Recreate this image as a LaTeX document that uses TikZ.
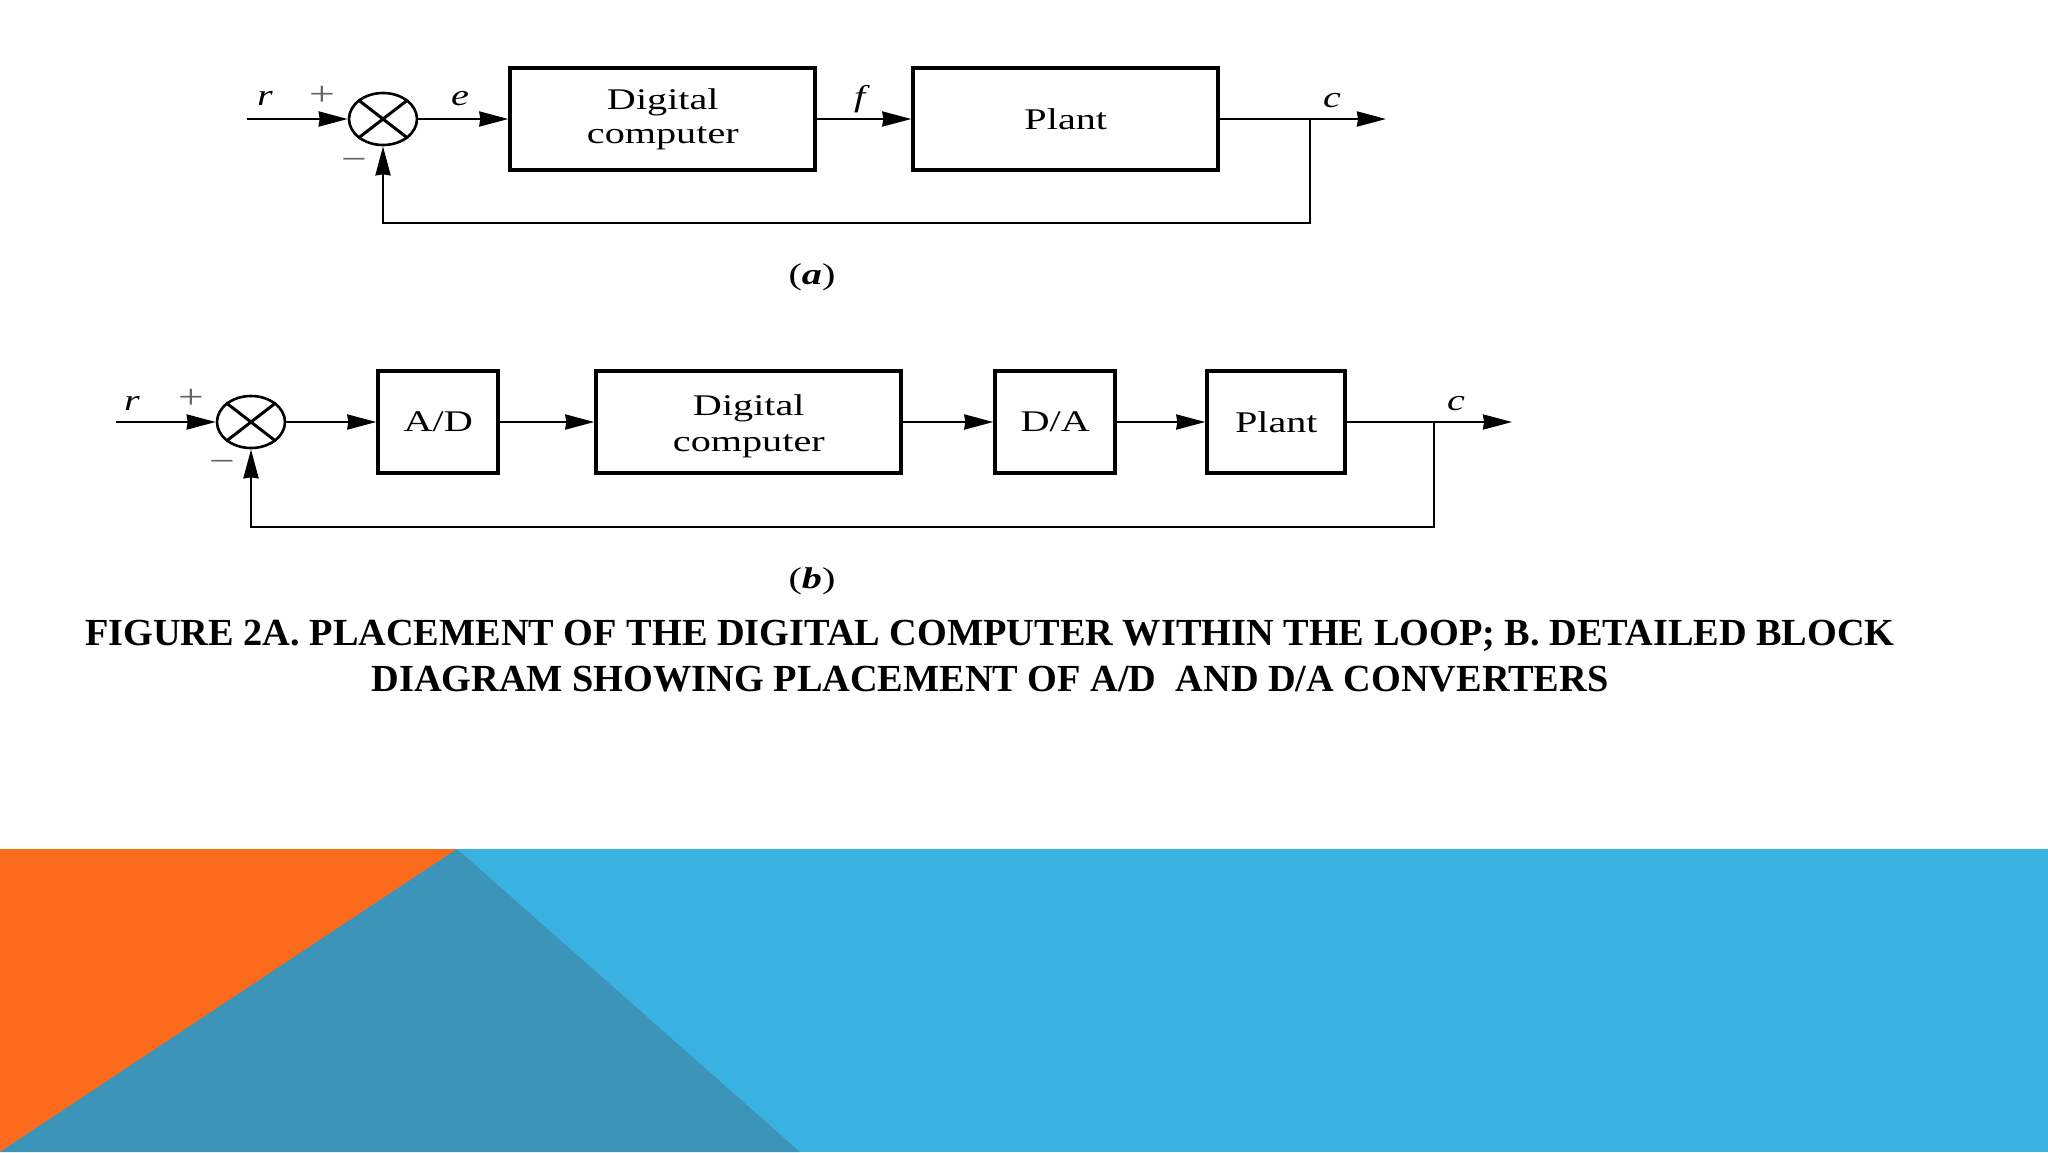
\documentclass[tikz,border=0pt]{standalone}
\usepackage{fontspec}
\setmainfont{Liberation Serif}
\usetikzlibrary{arrows.meta,shapes.geometric,positioning}
\definecolor{slideorange}{HTML}{FC6A1C}
\definecolor{slideblue}{HTML}{39B1E1}
\definecolor{slideteal}{HTML}{3C95B9}
% the scanned figure is stretched sideways
\newcommand{\wide}[1]{\scalebox{1.34}[1]{#1}}
\begin{document}
\begin{tikzpicture}[x=.5pt,y=-.5pt,>={Stealth[length=14.5pt,width=7.5pt,inset=.5pt]},
		every node/.style={inner sep=0pt,font=\fontsize{15}{16.5}\selectfont},
		block/.style={rectangle,draw,line width=2pt,minimum height=51pt,align=center},
		wide block/.style={block,minimum width=152.5pt},
		small block/.style={block,minimum width=60pt},
		plant block/.style={block,minimum width=69pt},
		sum node/.style={ellipse,draw,line width=1.3pt,minimum width=34pt,minimum height=26pt},
		signal/.style={->,line width=1.2pt},
		sign/.style={text=black!60,font=\fontsize{17}{17}\selectfont},
		caption/.style={font=\fontsize{19.15}{23}\selectfont\bfseries,align=center}]

\useasboundingbox (0,0) rectangle (2048,1152);

% slide background
\fill [slideblue] (0,849) rectangle (2048,1152);
\fill [slideorange] (0,849) -- (457,849) -- (0,1152) -- cycle;
\fill [slideteal] (457,849) -- (800,1152) -- (0,1152) -- cycle;

% (a)
\node (suma) [sum node] at (383,119) {};
\draw [line width=1.5pt] (suma.north west) -- (suma.south east) (suma.north east) -- (suma.south west);
\node (compa) [wide block,right=45pt of suma] {\wide{Digital}\\[.5pt]\wide{computer}};
\node (planta) [wide block,right=47pt of compa] {\wide{Plant}};
\coordinate (ina) at (247,119);
\coordinate (enda) at (1386,119);
\coordinate (tapa) at (1310,119);
\coordinate (backa) at (1310,223);

\draw [signal] (ina) -- (suma);
\draw [signal] (suma) -- (compa);
\draw [signal] (compa) -- (planta);
\draw [signal] (planta) -- (enda);
\draw [signal] (tapa) -- (backa) -| (suma);

\node (ra) at (265,98) {\wide{\textit{r}}};
\node (plusa) [sign] at (322,96) {\wide{+}};
\node (minusa) [sign] at (354,164) {\wide{−}};
\node (ea) at (460,99) {\wide{\textit{e}}};
\node (fa) at (862,99) {\wide{\textit{f}}};
\node (ca) at (1332,101) {\wide{\textit{c}}};
\node (capa) at (812,277) {\wide{(\textbf{\textit{a}})}};

% (b)
\node (sumb) [sum node] at (251,422) {};
\draw [line width=1.5pt] (sumb.north west) -- (sumb.south east) (sumb.north east) -- (sumb.south west);
\node (ad) [small block,right=45pt of sumb] {\wide{A/D}};
\node (compb) [wide block,right=47pt of ad] {\rule{0pt}{14.5pt}\wide{Digital}\\[1.5pt]\wide{computer}};
\node (da) [small block,right=45pt of compb] {\wide{D/A}};
\node (plantb) [plant block,right=44pt of da] {\wide{Plant}};
\coordinate (inb) at (116,422);
\coordinate (endb) at (1512,422);
\coordinate (tapb) at (1434,422);
\coordinate (backb) at (1434,527);

\draw [signal] (inb) -- (sumb);
\draw [signal] (sumb) -- (ad);
\draw [signal] (ad) -- (compb);
\draw [signal] (compb) -- (da);
\draw [signal] (da) -- (plantb);
\draw [signal] (plantb) -- (endb);
\draw [signal] (tapb) -- (backb) -| (sumb);

\node (rb) at (132,403) {\wide{\textit{r}}};
\node (plusb) [sign] at (191,399) {\wide{+}};
\node (minusb) [sign] at (222,466) {\wide{−}};
\node (cb) at (1456,404) {\wide{\textit{c}}};
\node (capb) at (812,581) {\wide{(\textbf{\textit{b}})}};

% caption
\node (title) [caption] at (990,656) {FIGURE 2A. PLACEMENT OF THE DIGITAL COMPUTER WITHIN THE LOOP; B. DETAILED BLOCK\\DIAGRAM SHOWING PLACEMENT OF A/D\ \ AND D/A CONVERTERS};

\end{tikzpicture}
\end{document}
